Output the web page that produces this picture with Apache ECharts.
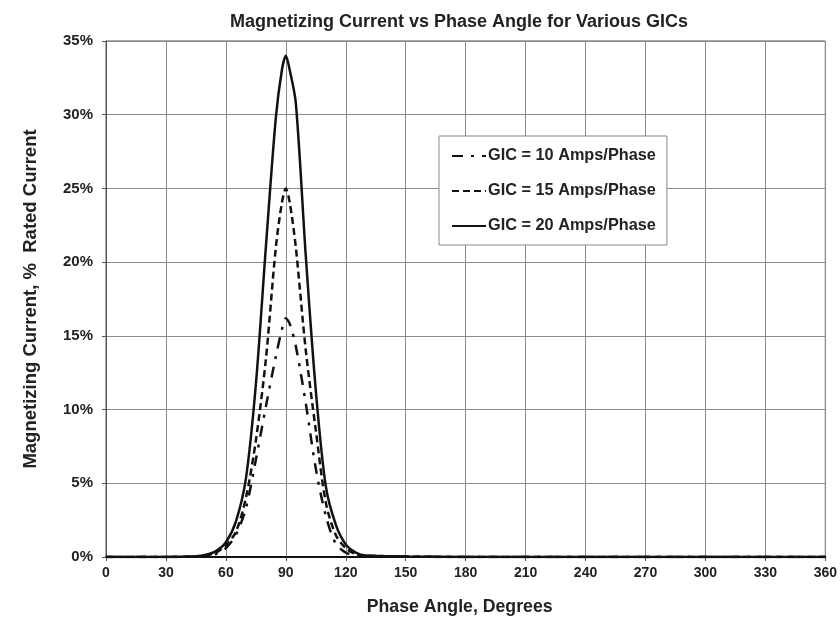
<!DOCTYPE html>
<html>
<head>
<meta charset="utf-8">
<script src="https://cdn.jsdelivr.net/npm/echarts@6/dist/echarts.min.js"></script>
<style>
html,body{margin:0;padding:0;background:#fff;}
#chart{width:840px;height:621px;}
</style>
</head>
<body>
<div id="chart"></div>
<script>
// Phase angle (degrees) and magnetizing current (% rated)
const angles10 = [0, 30, 45, 50, 55, 60, 65, 70, 75, 80, 85, 88, 90, 92, 95, 100, 105, 110, 115, 120, 125, 130, 150, 180, 360];
const gic10    = [0, 0, 0.02, 0.08, 0.2, 0.6, 1.5, 3.3, 6.6, 10.2, 13.6, 15.4, 16.2, 15.8, 14.3, 10.4, 6.0, 2.8, 0.9, 0.3, 0.1, 0.05, 0.02, 0, 0];

const angles15 = [0, 30, 45, 50, 55, 60, 65, 70, 75, 80, 85, 88, 90, 92, 95, 100, 105, 110, 115, 120, 125, 130, 150, 180, 360];
const gic15    = [0, 0, 0.03, 0.1, 0.3, 0.8, 1.7, 4.0, 7.9, 13.4, 21.0, 24.0, 25.0, 24.0, 21.0, 14.0, 8.6, 3.7, 1.5, 0.6, 0.2, 0.1, 0.03, 0, 0];

const angles20 = [0, 30, 45, 50, 55, 60, 65, 70, 75, 80, 85, 88, 90, 92, 95, 100, 105, 110, 115, 120, 125, 130, 150, 180, 360];
const gic20    = [0, 0, 0.05, 0.15, 0.4, 1.0, 2.4, 5.3, 11.7, 21.0, 29.8, 33.0, 34.0, 33.0, 30.8, 20.4, 11.3, 4.8, 2.2, 0.85, 0.3, 0.1, 0.04, 0, 0];

const seriesNames = ['GIC = 10 Amps/Phase', 'GIC = 15 Amps/Phase', 'GIC = 20 Amps/Phase'];
const xTicks = [0, 30, 60, 90, 120, 150, 180, 210, 240, 270, 300, 330, 360];
const yTicks = [0, 5, 10, 15, 20, 25, 30, 35];

function pairs(xs, ys){ return xs.map((x,i)=>[x, ys[i]]); }

const FONT = '"Liberation Sans", Arial, sans-serif';
const chart = echarts.init(document.getElementById('chart'), null, {renderer:'canvas'});
chart.setOption({
  backgroundColor: '#fff',
  animation: false,
  color: ['#111', '#111', '#111'],
  title: {
    text: 'Magnetizing Current vs Phase Angle for Various GICs',
    left: 454, top: 8, textAlign: 'center',
    textStyle: {fontFamily: FONT, fontSize: 18, fontWeight: 'bold', color: '#222'}
  },
  legend: {
    orient: 'vertical',
    left: 439, top: 136,
    padding: [12, 11, 11, 12],
    itemGap: 19,
    itemWidth: 34, itemHeight: 12,
    backgroundColor: '#fff',
    borderColor: '#888', borderWidth: 1,
    itemStyle: {opacity: 0},
    textStyle: {fontFamily: FONT, fontSize: 16.3, fontWeight: 'bold', color: '#222', padding:[0,0,0,-3]},
    data: seriesNames
  },
  grid: {left: 106, right: 14, top: 41, bottom: 62, show: true, borderColor: '#555', borderWidth: 1},
  xAxis: {
    type: 'value', min: 0, max: 360, interval: 30,
    name: 'Phase Angle, Degrees', nameLocation: 'middle', nameGap: 41,
    nameTextStyle: {fontFamily: FONT, fontSize: 17.7, fontWeight: 'bold', color: '#222', padding: [0, 12, 0, 0]},
    axisLine: {show: true, lineStyle: {color: '#111', width: 2}},
    axisTick: {show: true, length: 4, lineStyle: {color: '#555'}},
    axisLabel: {fontFamily: FONT, fontSize: 14, fontWeight: 'bold', color: '#222', margin: 9},
    splitLine: {show: true, lineStyle: {color: '#8a8a8a', width: 1}}
  },
  yAxis: {
    type: 'value', min: 0, max: 35, interval: 5,
    name: 'Magnetizing Current, %  Rated Current', nameLocation: 'middle', nameGap: 66,
    nameTextStyle: {fontFamily: FONT, fontSize: 18.5, fontWeight: 'bold', color: '#222'},
    axisLine: {show: true, lineStyle: {color: '#555', width: 1}},
    axisTick: {show: true, length: 4, lineStyle: {color: '#555'}},
    axisLabel: {fontFamily: FONT, fontSize: 15, fontWeight: 'bold', color: '#222', margin: 13,
      formatter: '{value}%'},
    splitLine: {show: true, lineStyle: {color: '#8a8a8a', width: 1}}
  },
  series: [
    {name: seriesNames[0], type: 'line', smooth: 0.3, symbol: 'none', data: pairs(angles10, gic10),
     lineStyle: {color: '#111', width: 2.5, type: [11, 8, 3, 8]}},
    {name: seriesNames[1], type: 'line', smooth: 0.3, symbol: 'none', data: pairs(angles15, gic15),
     lineStyle: {color: '#111', width: 2.5, type: [7, 4]}},
    {name: seriesNames[2], type: 'line', smooth: 0.3, symbol: 'none', data: pairs(angles20, gic20),
     lineStyle: {color: '#111', width: 2.5, type: 'solid'}}
  ]
});
</script>
</body>
</html>
